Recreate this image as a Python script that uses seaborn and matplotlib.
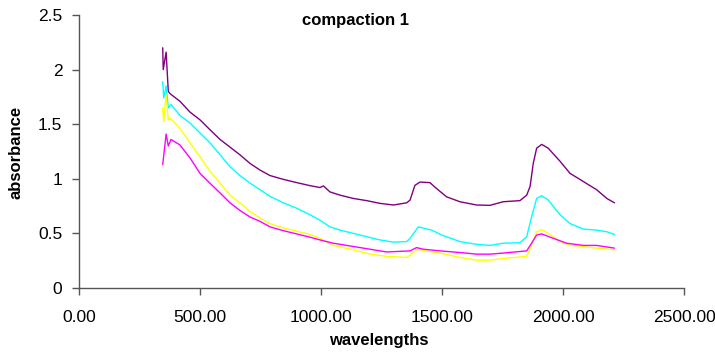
import pandas as pd
import matplotlib
matplotlib.use('Agg')
import matplotlib.pyplot as plt
from matplotlib.ticker import FormatStrFormatter, FuncFormatter
import seaborn as sns

sns.set_style('white')
plt.rcParams['font.family'] = ['Liberation Sans', 'DejaVu Sans']
plt.rcParams['text.color'] = 'black'
plt.rcParams['xtick.labelcolor'] = 'black'
plt.rcParams['ytick.labelcolor'] = 'black'

# spectra (wavelength nm, absorbance)
wl_purple = [346, 348, 360, 369, 376, 417, 459, 500, 541, 583, 624, 665, 707, 748, 789, 844, 900,
             955, 996, 1010, 1037, 1079, 1134, 1189, 1244, 1299, 1354, 1368, 1388, 1409, 1450, 1478,
             1519, 1574, 1643, 1698, 1753, 1822, 1850, 1864, 1877, 1891, 1912, 1939, 1988, 2029,
             2084, 2139, 2181, 2213]
ab_purple = [2.20, 2.00, 2.16, 1.80, 1.78, 1.71, 1.61, 1.54, 1.45, 1.36, 1.29, 1.22, 1.14, 1.08, 1.03,
             0.995, 0.965, 0.937, 0.92, 0.935, 0.88, 0.85, 0.82, 0.80, 0.775, 0.76, 0.78, 0.805, 0.94,
             0.97, 0.965, 0.91, 0.835, 0.79, 0.76, 0.757, 0.79, 0.80, 0.85, 0.93, 1.14, 1.28, 1.315,
             1.28, 1.16, 1.05, 0.975, 0.90, 0.82, 0.78]

wl_cyan = [346, 350, 360, 369, 380, 417, 459, 500, 541, 583, 624, 665, 707, 748, 789, 844, 900, 955,
           996, 1037, 1079, 1134, 1189, 1244, 1299, 1354, 1368, 1402, 1430, 1457, 1499, 1574, 1643,
           1698, 1753, 1822, 1850, 1870, 1891, 1912, 1939, 1988, 2029, 2084, 2139, 2181, 2213]
ab_cyan = [1.89, 1.74, 1.85, 1.65, 1.68, 1.58, 1.51, 1.42, 1.33, 1.22, 1.11, 1.03, 0.96, 0.90, 0.84,
           0.78, 0.73, 0.67, 0.62, 0.56, 0.53, 0.50, 0.47, 0.44, 0.42, 0.425, 0.455, 0.56, 0.545,
           0.53, 0.485, 0.425, 0.40, 0.39, 0.41, 0.415, 0.47, 0.65, 0.82, 0.845, 0.805, 0.67, 0.59,
           0.54, 0.53, 0.515, 0.49]

wl_yellow = [346, 350, 360, 369, 380, 417, 459, 500, 541, 583, 624, 665, 707, 748, 789, 844, 900,
             955, 996, 1051, 1134, 1203, 1271, 1354, 1368, 1398, 1430, 1492, 1574, 1643, 1698, 1753,
             1850, 1870, 1891, 1912, 1939, 1988, 2029, 2084, 2139, 2213]
ab_yellow = [1.65, 1.52, 1.77, 1.54, 1.55, 1.46, 1.33, 1.20, 1.07, 0.96, 0.85, 0.78, 0.70, 0.64, 0.59,
             0.55, 0.52, 0.49, 0.455, 0.39, 0.35, 0.31, 0.29, 0.28, 0.30, 0.355, 0.34, 0.32, 0.28,
             0.255, 0.255, 0.27, 0.29, 0.39, 0.515, 0.535, 0.50, 0.425, 0.39, 0.38, 0.365, 0.35]

wl_magenta = [346, 360, 369, 380, 417, 459, 500, 541, 583, 624, 665, 707, 748, 789, 844, 900, 955,
              996, 1051, 1134, 1203, 1271, 1368, 1395, 1423, 1492, 1574, 1643, 1698, 1753, 1850,
              1870, 1891, 1912, 1960, 2015, 2084, 2139, 2213]
ab_magenta = [1.13, 1.41, 1.30, 1.36, 1.31, 1.19, 1.05, 0.96, 0.87, 0.78, 0.71, 0.65, 0.61, 0.56,
              0.525, 0.495, 0.465, 0.44, 0.41, 0.38, 0.355, 0.33, 0.34, 0.37, 0.355, 0.34, 0.325,
              0.31, 0.31, 0.32, 0.34, 0.41, 0.485, 0.495, 0.455, 0.41, 0.39, 0.39, 0.365]

series = [
    ('purple', wl_purple, ab_purple, '#800080'),
    ('cyan', wl_cyan, ab_cyan, '#00FFFF'),
    ('yellow', wl_yellow, ab_yellow, '#FFFF00'),
    ('magenta', wl_magenta, ab_magenta, '#FF00FF'),
]

fig = plt.figure(figsize=(7.15, 3.56), dpi=100)
ax = fig.add_axes([79 / 715, 1 - 288 / 356, (684 - 79) / 715, (288 - 15) / 356])

for name, x, y, c in series:
    df = pd.DataFrame({'wavelengths': x, 'absorbance': y})
    sns.lineplot(data=df, x='wavelengths', y='absorbance', color=c, lw=1.0,
                 sort=False, estimator=None, ax=ax)

ax.set_xlim(0, 2500)
ax.set_ylim(0, 2.5)
ax.set_xticks([0, 500, 1000, 1500, 2000, 2500])
ax.set_yticks([0, 0.5, 1, 1.5, 2, 2.5])
ax.xaxis.set_major_formatter(FormatStrFormatter('%.2f'))
ax.yaxis.set_major_formatter(FuncFormatter(lambda v, p: '%g' % v))
ax.tick_params(axis='both', direction='out', length=5, width=1, color='#555555',
               labelcolor='black', labelsize=12.5, bottom=True, left=True)
ax.tick_params(axis='x', pad=11)
ax.tick_params(axis='y', pad=7)

for s in ['top', 'right']:
    ax.spines[s].set_visible(False)
for s in ['left', 'bottom']:
    ax.spines[s].set_color('#555555')
    ax.spines[s].set_linewidth(1)

ax.set_xlabel('')
ax.set_ylabel('')
fig.text(379 / 715, 1 - 340 / 356, 'wavelengths', ha='center', va='center',
         fontsize=12, fontweight='bold', color='black')
fig.text(16 / 715, 1 - 152 / 356, 'absorbance', ha='center', va='center', rotation=90,
         fontsize=12, fontweight='bold', color='black')
fig.text(355 / 715, 1 - 21 / 356, 'compaction 1', ha='center', va='center',
         fontsize=12, fontweight='bold', color='black')

fig.savefig('out.png', dpi=100)
